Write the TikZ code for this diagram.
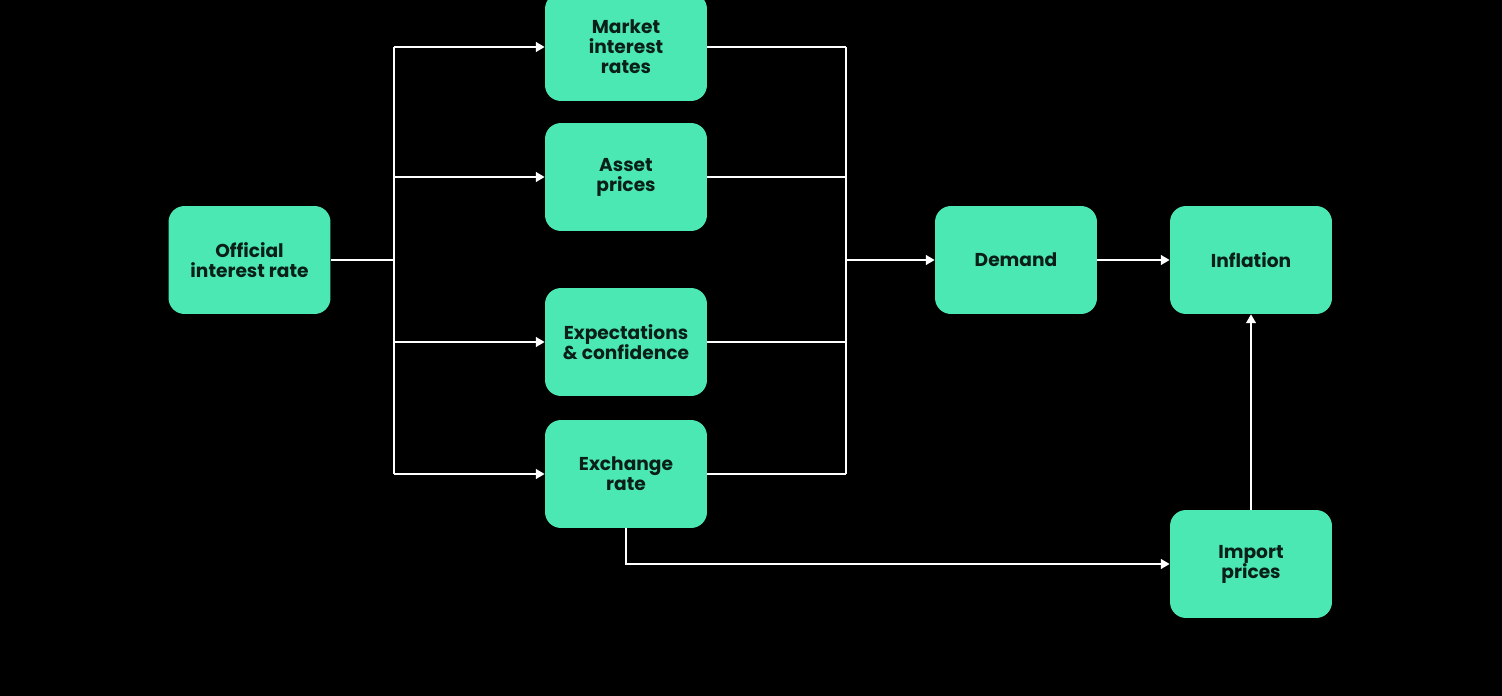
\documentclass[tikz,border=0pt]{standalone}
\usepackage{fontspec}
\setmainfont{Poppins}
\usetikzlibrary{arrows.meta}
\definecolor{mint}{HTML}{4BE8B4}
\definecolor{ink}{HTML}{0A1F18}
\begin{document}
\begin{tikzpicture}[x=0.02cm,y=-0.02cm,
    box/.style={fill=mint,rounded corners=0.32cm,inner sep=0pt,minimum width=3.24cm,minimum height=2.16cm,
      align=center,text=ink,font=\fontsize{10.6}{11.4}\selectfont\bfseries},
    link/.style={white,line width=1.1pt},
    arr/.style={link,-{Triangle[width=5.5pt,length=5pt]}}]
  \fill[black](0,0)rectangle(1502,696);%背景
  \useasboundingbox(0,0)rectangle(1502,696);
  \node[box](official)at(249.5,260){Official\\interest rate};
  \node[box](market)at(626,47){Market\\interest\\rates};
  \node[box](asset)at(626,177){Asset\\prices};
  \node[box](expect)at(626,342){Expectations\\\& confidence};
  \node[box](exchange)at(626,474){Exchange\\rate};
  \node[box](demand)at(1016,260){Demand};
  \node[box](inflation)at(1251,260){Inflation};
  \node[box](import)at(1251,564){Import\\prices};
  \coordinate(fork)at(394,260);%分岐
  \coordinate(join)at(846,260);%合流
  \draw[link](official.east|-fork)--(fork);
  \draw[link](fork|-market)--(fork|-exchange);
  \foreach \n in {market,asset,expect,exchange}
    \draw[arr](fork|-\n)--(\n.west);
  \foreach \n in {market,asset,expect,exchange}
    \draw[link](\n.east)--(join|-\n);
  \draw[link](join|-market)--(join|-exchange);
  \draw[arr](join)--(demand.west|-join);
  \draw[arr](demand)--(inflation);
  \draw[arr](exchange.south)|-(import.west);
  \draw[arr](import)--(inflation);
\end{tikzpicture}
\end{document}
